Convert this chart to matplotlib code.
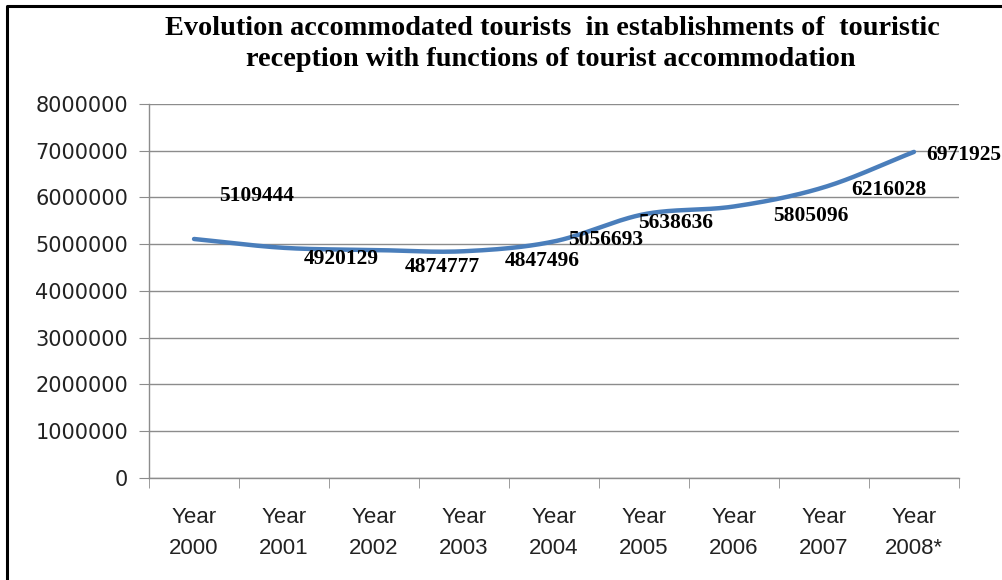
import numpy as np
import matplotlib.pyplot as plt
from matplotlib.lines import Line2D

# tourists accommodated per year
years = ["Year\n2000", "Year\n2001", "Year\n2002", "Year\n2003", "Year\n2004",
         "Year\n2005", "Year\n2006", "Year\n2007", "Year\n2008*"]
tourists = [5109444, 4920129, 4874777, 4847496, 5056693,
            5638636, 5805096, 6216028, 6971925]

# where each value label sits relative to its point (points)
label_offsets = [(45, 31), (41, -8), (49, -12), (56, -7), (37, 1),
                 (23, -6), (55, -7), (47, -2), (36, -2)]


def smooth(x, y, n=30):
    # Catmull-Rom curve through the points, like a spreadsheet "smoothed line"
    x = np.asarray(x, float)
    y = np.asarray(y, float)
    px = np.concatenate([[2 * x[0] - x[1]], x, [2 * x[-1] - x[-2]]])
    py = np.concatenate([[2 * y[0] - y[1]], y, [2 * y[-1] - y[-2]]])
    xs, ys = [], []
    t = np.linspace(0, 1, n, endpoint=False)
    for i in range(1, len(px) - 2):
        for p, out in ((px, xs), (py, ys)):
            p0, p1, p2, p3 = p[i - 1], p[i], p[i + 1], p[i + 2]
            out.extend(0.5 * ((2 * p1) + (-p0 + p2) * t
                              + (2 * p0 - 5 * p1 + 4 * p2 - p3) * t ** 2
                              + (-p0 + 3 * p1 - 3 * p2 + p3) * t ** 3))
    xs.append(x[-1])
    ys.append(y[-1])
    return np.array(xs), np.array(ys)


fig = plt.figure(figsize=(10.03, 5.8), dpi=100)
ax = fig.add_axes([0.1486, 0.176, 0.8075, 0.645])

xpos = np.arange(len(years))
sx, sy = smooth(xpos, tourists)
ax.plot(sx, sy, color="#4A7EBB", lw=3.2, solid_capstyle="round", zorder=3)

for xi, v, (dx, dy) in zip(xpos, tourists, label_offsets):
    ax.annotate(str(v), (xi, v), xytext=(dx, dy), textcoords="offset points",
                ha="center", va="center", fontsize=15.5, fontweight="bold",
                family="Liberation Serif", color="black", zorder=4,
                annotation_clip=False)

ax.set_xlim(-0.5, len(years) - 0.5)
ax.set_ylim(0, 8000000)
ax.set_yticks(np.arange(0, 8000001, 1000000))
ax.set_yticklabels([str(v) for v in range(0, 8000001, 1000000)],
                   fontsize=15, family="DejaVu Sans", color="#222222")
ax.yaxis.grid(True, color="#8C8C8C", lw=1)
ax.set_axisbelow(True)

# category labels between boundary ticks
ax.set_xticks(xpos)
ax.set_xticklabels(years, fontsize=16, family="Liberation Sans",
                   color="#222222", linespacing=1.6)
ax.set_xticks(np.arange(-0.5, len(years)), minor=True)
ax.tick_params(axis="x", which="major", length=0, pad=21)
ax.tick_params(axis="x", which="minor", length=7, color="#8C8C8C", direction="out")
ax.tick_params(axis="y", length=7, color="#8C8C8C", direction="out", pad=8)

for s in ("top", "right"):
    ax.spines[s].set_visible(False)
for s in ("left", "bottom"):
    ax.spines[s].set_color("#8C8C8C")
    ax.spines[s].set_linewidth(1)

fig.text(0.551, 0.951, "Evolution accommodated tourists  in establishments of  touristic",
         ha="center", va="center", fontsize=20.3, fontweight="bold",
         family="Liberation Serif")
fig.text(0.549, 0.898, "reception with functions of tourist accommodation",
         ha="center", va="center", fontsize=20.3, fontweight="bold",
         family="Liberation Serif")

# frame along the left and top edges
fig.add_artist(Line2D([0.0065, 0.0065, 1.0], [0.0, 0.9895, 0.9895],
                      transform=fig.transFigure, color="black", lw=2.2))

fig.savefig("out.png", dpi=100)
